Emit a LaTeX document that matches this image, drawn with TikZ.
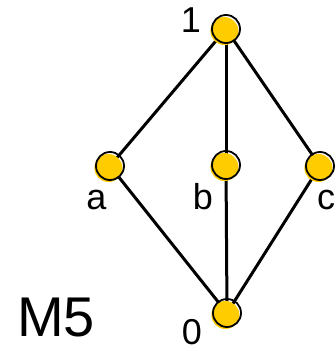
\documentclass[tikz,border=0pt]{standalone}
\usepackage{fontspec}
\setmainfont{Liberation Sans}
\usetikzlibrary{shadows,backgrounds}
\definecolor{gold}{RGB}{255,204,0}
\begin{document}
\begin{tikzpicture}[x=1pt,y=1pt,
  vertex/.style={circle, minimum size=28pt, inner sep=0pt, draw=black, line width=1.8pt,
    general shadow={fill=gold, shadow xshift=-1.6pt, shadow yshift=-2pt}},
  lbl/.style={anchor=base, inner sep=0pt, font=\fontsize{36}{40}\selectfont},
  edge/.style={line width=3pt, black}]
\useasboundingbox (0,0) rectangle (336,351);
\node[vertex] (one) at (226,322) {};
\node[vertex] (a) at (110,185) {};
\node[vertex] (b) at (226,186) {};
\node[vertex] (c) at (320,185) {};
\node[vertex] (zero) at (227,38) {};
\begin{pgfonlayer}{background}
\fill[white] (0,0) rectangle (336,351);
\draw[edge] (one.center) -- (a.center);
\draw[edge] (one.center) -- (b.center);
\draw[edge] (one.center) -- (c.center);
\draw[edge] (a.center) -- (zero.center);
\draw[edge] (b.center) -- (zero.center);
\draw[edge] (c.center) -- (zero.center);
\end{pgfonlayer}
\node[lbl] (l1) at (191,318) {1};
\node[lbl] (la) at (96.5,141) {a};
\node[lbl] (lb) at (203,141) {b};
\node[lbl] (lc) at (326,141) {c};
\node[lbl] (l0) at (192,6) {0};
\node[anchor=base, inner sep=0pt, font=\fontsize{56}{62}\selectfont] (m5) at (56,14) {M5};
\end{tikzpicture}
\end{document}
